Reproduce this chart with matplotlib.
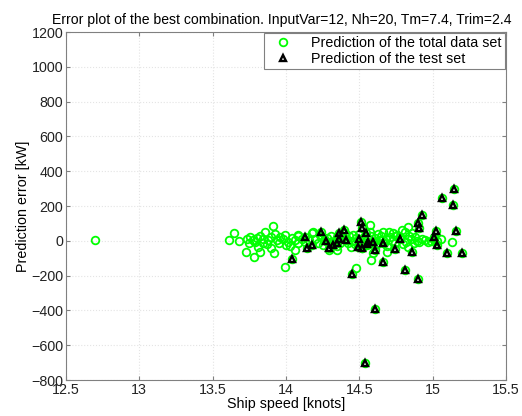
import matplotlib
matplotlib.use("Agg")
import matplotlib.pyplot as plt

plt.rcParams['font.family'] = ['Liberation Sans', 'DejaVu Sans']

# Test set points (speed [knots], error [kW])
test_x = [15.147, 15.065, 15.14, 14.93, 14.90, 14.91, 15.02, 15.16, 15.01, 15.03,
          14.66, 14.78, 14.74, 14.86, 15.10, 15.20, 14.66, 14.81, 14.90,
          14.51, 14.52, 14.545, 14.395, 14.36, 14.36, 14.41, 14.24, 14.13, 14.18,
          14.145, 14.27, 14.29, 14.32, 14.345, 14.50, 14.49, 14.52, 14.56, 14.59,
          14.55, 14.61, 14.04, 14.45, 14.61, 14.54]
test_y = [296, 244, 206, 146, 104, 72, 56, 56, 20, -24,
          -14, 9, -47, -63, -70, -72, -120, -168, -218,
          110, 72, 47, 62, 43, 9, 5, 49, 24, -24,
          -40, -1, -43, -24, -14, 9, -34, -40, -5, -5,
          -18, -53, -106, -193, -392, -700]

# Remaining points of the total data set
other_x = [12.70,
           13.61, 13.645, 13.73, 13.78, 13.82, 13.81, 13.90, 13.92, 13.99, 14.06,
           14.08, 14.08, 14.175, 13.91,
           13.732, 13.754, 13.777, 13.80, 13.822, 13.845, 13.857, 13.88, 13.90, 13.925,
           13.936, 13.96, 13.98, 13.99, 14.015, 14.04, 14.06, 14.08, 14.107, 14.13, 14.16,
           13.75, 13.79, 13.84, 13.87, 13.95, 14.00, 14.03, 13.68,
           14.186, 14.29, 14.345, 14.57, 14.58, 14.59, 14.48, 14.686, 14.73, 14.70, 14.527,
           14.20, 14.22, 14.24, 14.26, 14.28, 14.30, 14.31, 14.33, 14.35, 14.37,
           14.38, 14.40, 14.42, 14.43, 14.45, 14.46, 14.47, 14.48, 14.50, 14.51,
           14.53, 14.55, 14.56, 14.58, 14.60, 14.61, 14.62, 14.63, 14.64, 14.65,
           14.67, 14.68, 14.69, 14.71, 14.72, 14.74, 14.75, 14.25, 14.35, 14.44,
           14.52, 14.57, 14.40, 14.23, 14.66,
           14.83, 14.81, 14.86, 14.88, 14.947, 14.97, 15.06, 15.13, 14.87, 14.82,
           14.91, 14.83, 14.78, 14.80, 14.85, 14.89, 14.93, 14.99, 15.01, 15.03,
           14.76, 14.79, 14.84]
other_y = [2,
           5, 47, -63, -91, -63, -34, -43, -72, -149, -53,
           -11, 28, 43, 87,
           9, 24, 5, 14, 27, 9, 52, 5, 20, 39,
           5, 24, 9, 33, -5, 14, 5, 33, 9, -5, 5,
           -10, -5, -15, -20, -10, -25, -30, 0,
           49, -53, -53, 91, -110, -72, -158, -63, 43, 52, 81,
           10, -10, 20, 5, 15, -5, 25, 0, 20, -10,
           30, 10, -15, 25, 0, 35, -20, 15, 40, -10,
           20, -25, 10, 30, -5, 15, -20, 40, 5, 25,
           -15, 10, -30, 20, 0, -10, 30, -25, -30, -35,
           -40, 50, 45, 35, 50,
           81, 52, 43, 24, 5, -5, 9, -5, -14, -5,
           -5, -34, 20, -20, 10, 0, 10, 0, 5, 0,
           35, 60, 30]

total_x = other_x + test_x
total_y = other_y + test_y

x_ticks = [12.5, 13, 13.5, 14, 14.5, 15, 15.5]
x_tick_labels = ['12.5', '13', '13.5', '14', '14.5', '15', '15.5']
y_ticks = [-800, -600, -400, -200, 0, 200, 400, 600, 800, 1000, 1200]

fig = plt.figure(figsize=(5.22, 4.16), dpi=100)
ax = fig.add_axes([0.1264, 0.0865, 0.8429, 0.8365])

ax.plot(total_x, total_y, linestyle='none', marker='o', ms=5.5, mfc='none',
        mec=(0, 1, 0), mew=1.3, label='Prediction of the total data set')
ax.plot(test_x, test_y, linestyle='none', marker='^', ms=5, mfc='none',
        mec='k', mew=1.7, label='Prediction of the test set')

ax.set_xlim(12.5, 15.5)
ax.set_ylim(-800, 1200)
ax.set_xticks(x_ticks)
ax.set_xticklabels(x_tick_labels)
ax.set_yticks(y_ticks)
ax.tick_params(direction='in', top=True, right=True, labelsize=10.3,
               colors='#222222', length=3, color='#808080', pad=2)
for s in ax.spines.values():
    s.set_color('#808080')
ax.grid(True, linestyle=':', color='#e4e4e4', linewidth=0.8)

ax.set_xlabel('Ship speed [knots]', fontsize=10.3, labelpad=0)
ax.set_ylabel('Prediction error [kW]', fontsize=10.3, labelpad=1)
ax.set_title('Error plot of the best combination. InputVar=12, Nh=20, Tm=7.4, Trim=2.4',
             fontsize=10.1, pad=6, x=0.49)

leg = ax.legend(loc='upper right', fontsize=10.3, fancybox=False, framealpha=1,
                edgecolor='#808080', borderaxespad=0.1, handletextpad=0.9,
                borderpad=0.2, labelspacing=0.15, handlelength=2.2)
leg.get_frame().set_linewidth(0.8)

fig.savefig('out.png', dpi=100)
